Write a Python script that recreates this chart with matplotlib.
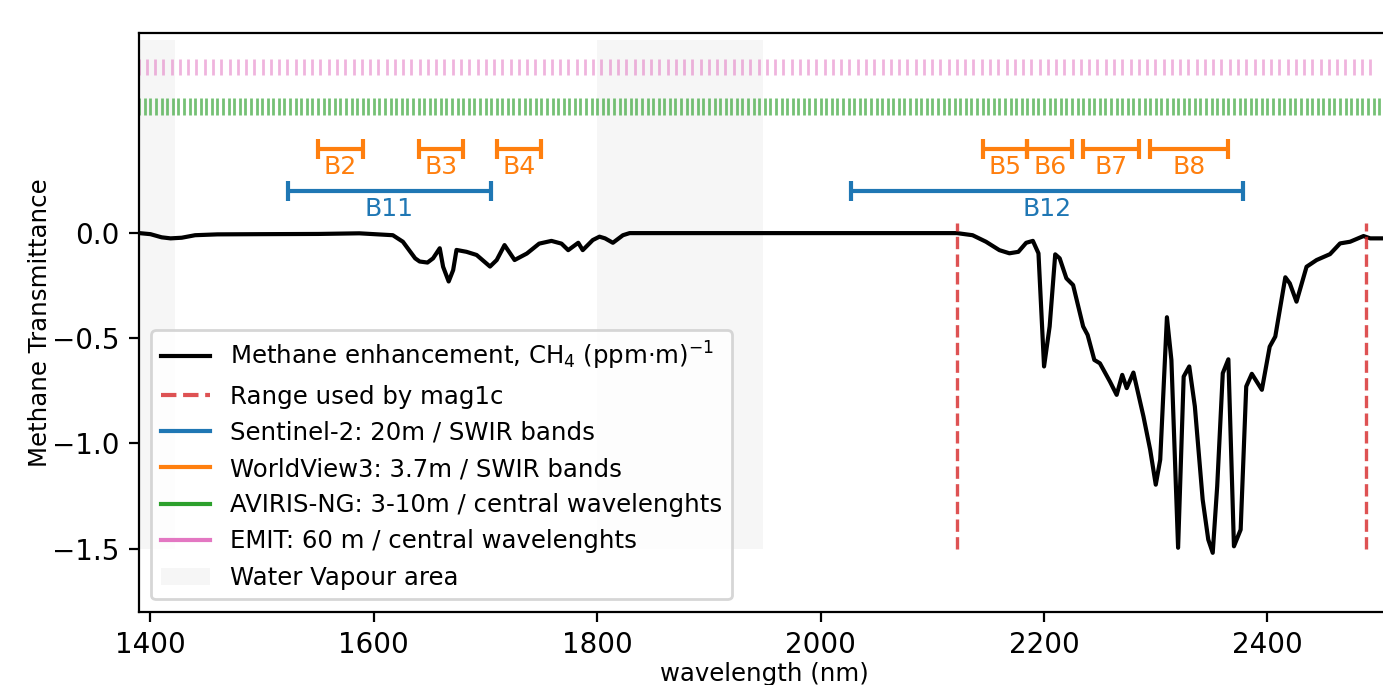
import numpy as np
import matplotlib
matplotlib.use('Agg')
import matplotlib.pyplot as plt
from matplotlib.lines import Line2D
from matplotlib.patches import Patch

# methane transmittance curve
wavelength = [1390, 1400, 1410, 1418, 1428, 1440, 1460, 1500, 1550, 1587,
              1617, 1626, 1637, 1641, 1648, 1653, 1659, 1662, 1667, 1671,
              1674, 1683, 1692, 1704, 1710, 1717, 1726, 1737, 1748, 1759,
              1768, 1774, 1783, 1787, 1796, 1802, 1807, 1814, 1823, 1829,
              1900, 2000, 2098, 2122, 2136, 2148, 2160, 2169, 2177, 2184,
              2190, 2195, 2200, 2205, 2210, 2214, 2220, 2226, 2235, 2239,
              2245, 2250, 2259, 2265, 2270, 2274, 2280, 2289, 2295, 2300,
              2304, 2310, 2314, 2320, 2325, 2330, 2335, 2342, 2347, 2351,
              2355, 2360, 2365, 2370, 2376, 2381, 2386, 2395, 2402, 2407,
              2416, 2420, 2426, 2435, 2444, 2456, 2465, 2474, 2486, 2492,
              2502, 2510]
transmittance = [0.0, -0.005, -0.02, -0.025, -0.022, -0.01, -0.006, -0.005, -0.004, -0.001,
                 -0.01, -0.041, -0.12, -0.135, -0.14, -0.12, -0.072, -0.16, -0.23, -0.176,
                 -0.08, -0.089, -0.104, -0.159, -0.128, -0.057, -0.128, -0.097, -0.05, -0.037,
                 -0.05, -0.081, -0.046, -0.081, -0.033, -0.017, -0.025, -0.046, -0.01, 0.0,
                 0.0, 0.0, 0.0, 0.0, -0.01, -0.041, -0.081, -0.096, -0.089, -0.046,
                 -0.037, -0.096, -0.634, -0.444, -0.101, -0.12, -0.215, -0.247, -0.444, -0.484,
                 -0.603, -0.619, -0.706, -0.769, -0.674, -0.737, -0.663, -0.872, -1.03, -1.196,
                 -1.077, -0.4, -0.603, -1.496, -0.682, -0.634, -0.824, -1.267, -1.457, -1.52,
                 -1.204, -0.666, -0.6, -1.489, -1.41, -0.729, -0.669, -0.745, -0.54, -0.492,
                 -0.21, -0.239, -0.326, -0.16, -0.128, -0.1, -0.049, -0.041, -0.014, -0.025,
                 -0.025, -0.025]

# range used by mag1c
mag1c_range = [2122, 2488]

# sentinel-2 swir bands
s2_names = ['B11', 'B12']
s2_start = [1523, 2027]
s2_end = [1705, 2378]

# worldview3 swir bands
wv3_names = ['B2', 'B3', 'B4', 'B5', 'B6', 'B7', 'B8']
wv3_start = [1550, 1640, 1710, 2145, 2185, 2235, 2295]
wv3_end = [1590, 1680, 1750, 2185, 2225, 2285, 2365]

# central wavelengths: regular sampling of each sensor
aviris_first, aviris_last, aviris_step = 1380, 2510, 5.0
emit_first, emit_last, emit_step = 1382, 2494, 7.4

# water vapour windows
water_bands = [(1350, 1422), (1800, 1948)]

fig = plt.figure(figsize=(6.915, 3.425), dpi=200)
ax = fig.add_axes([0.1007, 0.107, 0.9046, 0.8444])

for lo, hi in water_bands:
    ax.fill_between([lo, hi], -1.5, 0.92, color='gray', alpha=0.07, linewidth=0)

ax.plot(wavelength, transmittance, color='black', linewidth=1.5)

ax.vlines(mag1c_range, -1.5, 0.05, colors='tab:red', linestyles='--', alpha=0.8, linewidth=1.2)

aviris = np.arange(aviris_first, aviris_last, aviris_step)
emit = np.arange(emit_first, emit_last + 0.1, emit_step)
ax.vlines(aviris, 0.56, 0.64, colors='tab:green', alpha=0.65, linewidth=1)
ax.vlines(emit, 0.75, 0.83, colors='tab:pink', alpha=0.55, linewidth=1)

for name, lo, hi in zip(s2_names, s2_start, s2_end):
    mid = (lo + hi) / 2
    ax.errorbar(mid, 0.2, xerr=(hi - lo) / 2, color='tab:blue', capsize=3.5, capthick=1.5)
    ax.text(mid, 0.17, name, color='tab:blue', fontsize=9, ha='center', va='top')

for name, lo, hi in zip(wv3_names, wv3_start, wv3_end):
    mid = (lo + hi) / 2
    ax.errorbar(mid, 0.4, xerr=(hi - lo) / 2, color='tab:orange', capsize=3.5, capthick=1.5)
    ax.text(mid, 0.37, name, color='tab:orange', fontsize=9, ha='center', va='top')

ax.set_xlim(1390, 2510)
ax.set_ylim(-1.8, 0.95)
ax.set_yticks([0.0, -0.5, -1.0, -1.5])
ax.set_xlabel('wavelength (nm)', fontsize=8.8, labelpad=1)
ax.set_ylabel('Methane Transmittance', fontsize=8.8, labelpad=0)

handles = [
    Line2D([], [], color='black'),
    Line2D([], [], color='tab:red', linestyle='--', alpha=0.8, linewidth=1.5),
    Line2D([], [], color='tab:blue'),
    Line2D([], [], color='tab:orange'),
    Line2D([], [], color='tab:green'),
    Line2D([], [], color='tab:pink'),
    Patch(facecolor='gray', alpha=0.07),
]
labels = [
    'Methane enhancement, CH$_4$ (ppm·m)$^{-1}$',
    'Range used by mag1c',
    'Sentinel-2: 20m / SWIR bands',
    'WorldView3: 3.7m / SWIR bands',
    'AVIRIS-NG: 3-10m / central wavelenghts',
    'EMIT: 60 m / central wavelenghts',
    'Water Vapour area',
]
ax.legend(handles, labels, loc='lower left', fontsize=8.8)

fig.savefig('out.png', dpi=200)
